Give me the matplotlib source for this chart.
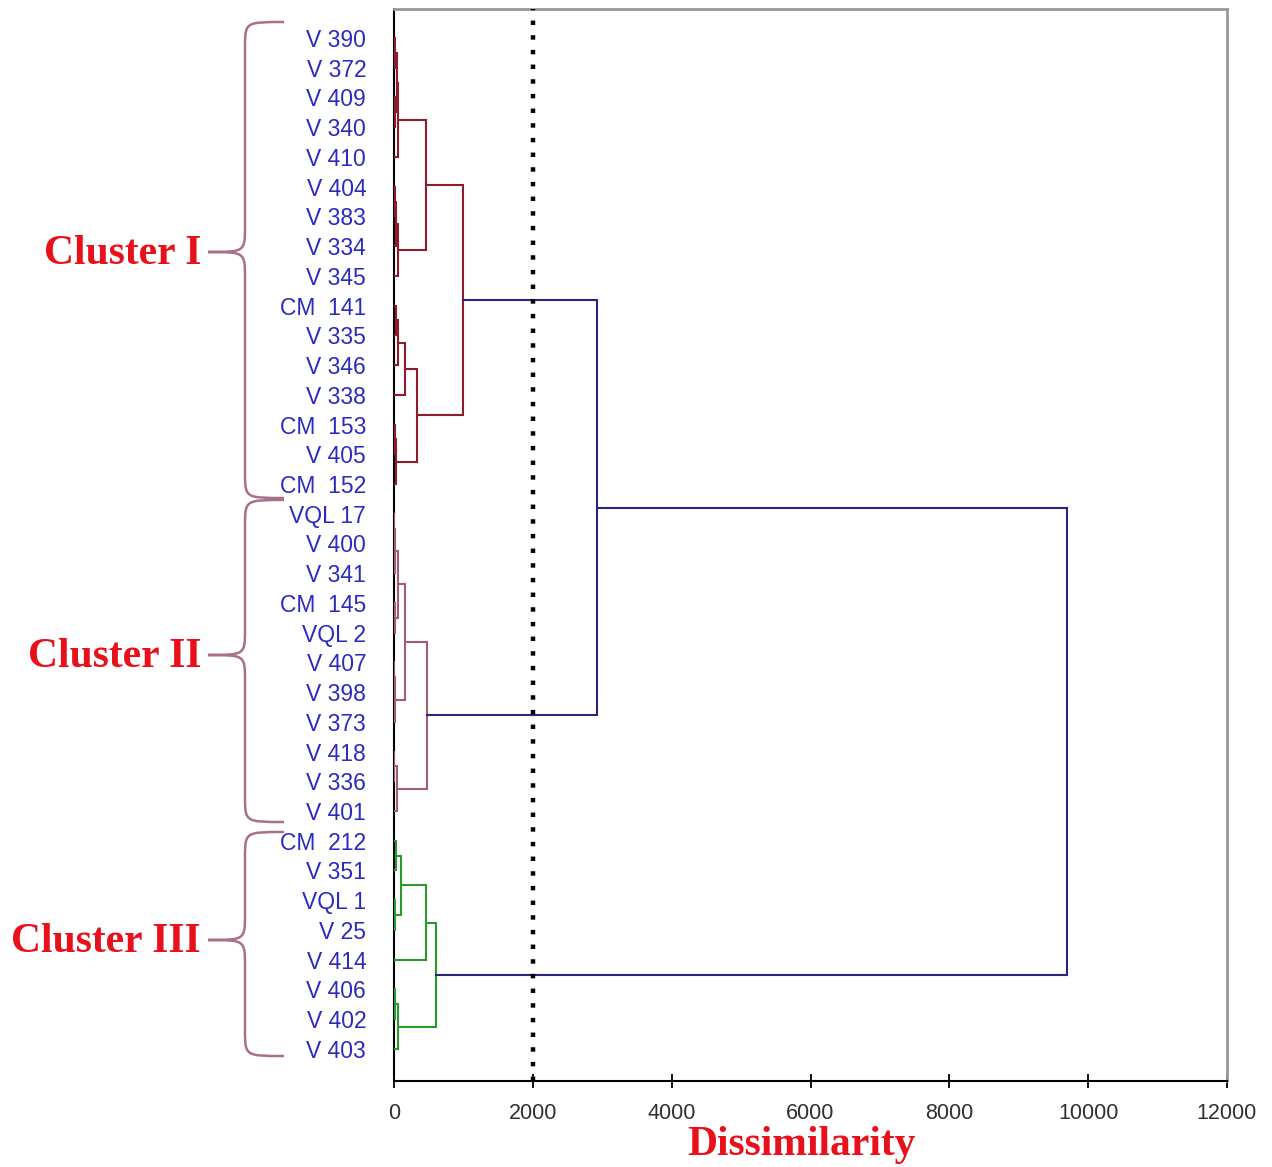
import numpy as np
import matplotlib.pyplot as plt
from matplotlib.path import Path
from matplotlib.patches import PathPatch

# feuilles du dendrogramme (de haut en bas)
leaves = ['V 390', 'V 372', 'V 409', 'V 340', 'V 410', 'V 404', 'V 383', 'V 334',
          'V 345', 'CM  141', 'V 335', 'V 346', 'V 338', 'CM  153', 'V 405', 'CM  152',
          'VQL 17', 'V 400', 'V 341', 'CM  145', 'VQL 2', 'V 407', 'V 398', 'V 373',
          'V 418', 'V 336', 'V 401', 'CM  212', 'V 351', 'VQL 1', 'V 25', 'V 414',
          'V 406', 'V 402', 'V 403']

# fusions : enfant a, enfant b (indice feuille ou 35+k), dissimilarite, groupe
merge_a = [0, 2, 35, 37, 5, 39, 40, 38, 9, 43, 44, 13, 46, 45, 42,
           16, 50, 19, 51, 21, 54, 53, 24, 57, 56,
           49,
           27, 29, 61, 63, 32, 65, 64,
           60]
merge_b = [1, 3, 36, 4, 6, 7, 8, 41, 10, 11, 12, 14, 15, 47, 48,
           17, 18, 20, 52, 22, 23, 55, 25, 26, 58,
           59,
           28, 30, 62, 31, 33, 34, 66,
           67]
merge_h = [15, 12, 50, 58, 20, 35, 55, 455, 25, 55, 165, 20, 30, 325, 990,
           5, 10, 8, 55, 5, 10, 165, 5, 50, 478,
           2918,
           25, 8, 108, 455, 8, 55, 612,
           9690]
merge_grp = ['I'] * 15 + ['II'] * 10 + ['top'] + ['III'] * 7 + ['top']

colors = {'I': '#8E1C2C', 'II': '#A45A7A', 'III': '#2A9A2A', 'top': '#26267F'}

cutoff = 2000
xticks = [0, 2000, 4000, 6000, 8000, 10000, 12000]

cluster_names = ['Cluster I', 'Cluster II', 'Cluster III']
# accolades en pixels : haut, pointe, bas
brace_top = [22, 500, 832]
brace_tip = [252, 655, 940]
brace_bot = [498, 822, 1056]

fig = plt.figure(figsize=(12.72, 11.67), dpi=100)
ax = fig.add_axes([394 / 1272, 1 - 1081 / 1167, 833 / 1272, 1072 / 1167])

n = len(leaves)
ypos = list(np.arange(1, n + 1, dtype=float))
xpos = [0.0] * n
for a, b, h, g in zip(merge_a, merge_b, merge_h, merge_grp):
    ya, yb = ypos[a], ypos[b]
    xa, xb = xpos[a], xpos[b]
    ax.plot([xa, h, h, xb], [ya, ya, yb, yb], color=colors[g], lw=1.5,
            solid_joinstyle='miter', zorder=3)
    ypos.append((ya + yb) / 2)
    xpos.append(h)

ax.axvline(cutoff, color='black', lw=3.2, linestyle=(0, (1, 2.3)),
           dash_capstyle='butt', zorder=4)

ax.set_xlim(0, 12000)
ax.set_ylim(36.08, 0.025)
ax.set_xticks(xticks)
ax.set_xticklabels([str(t) for t in xticks], fontsize=15.5, family='Liberation Sans',
                   color='#303030')
ax.tick_params(axis='x', direction='inout', length=10, width=1.3, pad=11)
ax.set_yticks(np.arange(1, n + 1))
ax.set_yticklabels(leaves, fontsize=16.5, family='Liberation Sans', color='#2B2BC0')
ax.tick_params(axis='y', length=0, pad=20)

for s in ['top', 'right']:
    ax.spines[s].set_color('#999999')
    ax.spines[s].set_linewidth(2)
for s in ['left', 'bottom']:
    ax.spines[s].set_color('black')
    ax.spines[s].set_linewidth(1.5)

# calque pour les accolades et les titres
ov = fig.add_axes([0, 0, 1, 1], facecolor='none')
ov.set_xlim(0, 1272)
ov.set_ylim(1167, 0)
ov.axis('off')

x_end, x_mid, x_tip, r = 284, 245, 208, 26
for name, t, p, b in zip(cluster_names, brace_top, brace_tip, brace_bot):
    verts = [(x_end, t), (x_mid, t), (x_mid, t), (x_mid, t + r),
             (x_mid, p - r),
             (x_mid, p), (x_mid, p), (x_tip, p),
             (x_mid, p), (x_mid, p), (x_mid, p + r),
             (x_mid, b - r),
             (x_mid, b), (x_mid, b), (x_end, b)]
    codes = [Path.MOVETO, Path.CURVE4, Path.CURVE4, Path.CURVE4,
             Path.LINETO,
             Path.CURVE4, Path.CURVE4, Path.CURVE4,
             Path.CURVE4, Path.CURVE4, Path.CURVE4,
             Path.LINETO,
             Path.CURVE4, Path.CURVE4, Path.CURVE4]
    ov.add_patch(PathPatch(Path(verts, codes), fill=False, edgecolor='#A8708A', lw=1.8))
    ov.text(201, p + 2, name, ha='right', va='center', fontsize=30,
            family='Liberation Serif', weight='bold', color='#E8101A')

ov.text(801, 1145, 'Dissimilarity', ha='center', va='center', fontsize=30,
        family='Liberation Serif', weight='bold', color='#E8101A')

plt.savefig('out.png', dpi=100)
